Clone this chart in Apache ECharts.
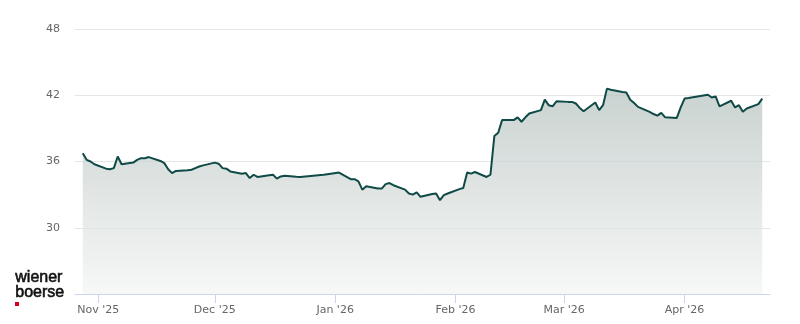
<!DOCTYPE html>
<html>
<head>
<meta charset="utf-8">
<script src="https://cdn.jsdelivr.net/npm/echarts@6/dist/echarts.min.js"></script>
<style>
  html, body { margin: 0; padding: 0; background: #ffffff; }
  #chart { width: 800px; height: 324px; }
</style>
</head>
<body>
<div id="chart"></div>
<script>
const dates = [
  '2025-10-28','2025-10-29','2025-10-30','2025-10-31',
  '2025-11-03','2025-11-04','2025-11-05','2025-11-06','2025-11-07',
  '2025-11-10','2025-11-11','2025-11-12','2025-11-13','2025-11-14',
  '2025-11-17','2025-11-18','2025-11-19','2025-11-20','2025-11-21',
  '2025-11-24','2025-11-25','2025-11-26','2025-11-27','2025-11-28',
  '2025-12-01','2025-12-02','2025-12-03','2025-12-04','2025-12-05',
  '2025-12-08','2025-12-09','2025-12-10','2025-12-11','2025-12-12',
  '2025-12-15','2025-12-16','2025-12-17','2025-12-18','2025-12-19',
  '2025-12-22','2025-12-23','2025-12-29','2025-12-30','2026-01-02',
  '2026-01-05','2026-01-06','2026-01-07','2026-01-08','2026-01-09',
  '2026-01-12','2026-01-13','2026-01-14','2026-01-15','2026-01-16',
  '2026-01-19','2026-01-20','2026-01-21','2026-01-22','2026-01-23',
  '2026-01-26','2026-01-27','2026-01-28','2026-01-29','2026-01-30',
  '2026-02-02','2026-02-03','2026-02-04','2026-02-05','2026-02-06',
  '2026-02-09','2026-02-10','2026-02-11','2026-02-12','2026-02-13',
  '2026-02-16','2026-02-17','2026-02-18','2026-02-19','2026-02-20',
  '2026-02-23','2026-02-24','2026-02-25','2026-02-26','2026-02-27',
  '2026-03-02','2026-03-03','2026-03-04','2026-03-05','2026-03-06',
  '2026-03-09','2026-03-10','2026-03-11','2026-03-12','2026-03-13',
  '2026-03-16','2026-03-17','2026-03-18','2026-03-19','2026-03-20',
  '2026-03-23','2026-03-24','2026-03-25','2026-03-26','2026-03-27',
  '2026-03-30','2026-03-31','2026-04-01','2026-04-02',
  '2026-04-07','2026-04-08','2026-04-09','2026-04-10',
  '2026-04-13','2026-04-14','2026-04-15','2026-04-16','2026-04-17',
  '2026-04-20','2026-04-21'
];

const prices = [
  36.75, 36.15, 36.0, 35.75,
  35.35, 35.3, 35.4, 36.45, 35.75,
  35.9, 36.15, 36.3, 36.3, 36.4,
  36.05, 35.85, 35.3, 34.95, 35.15,
  35.2, 35.25, 35.4, 35.55, 35.65,
  35.9, 35.8, 35.4, 35.35, 35.1,
  34.9, 34.95, 34.5, 34.8, 34.6,
  34.75, 34.8, 34.45, 34.65, 34.7,
  34.62, 34.6, 34.8, 34.85, 35.0,
  34.4, 34.4, 34.2, 33.45, 33.75,
  33.55, 33.55, 33.95, 34.05, 33.85,
  33.45, 33.1, 33.0, 33.2, 32.8,
  33.05, 33.1, 32.5, 32.95, 33.1,
  33.5, 33.6, 35.0, 34.9, 35.05,
  34.6, 34.8, 38.3, 38.6, 39.75,
  39.75, 40.0, 39.6, 40.0, 40.35,
  40.65, 41.6, 41.1, 41.0, 41.45,
  41.4, 41.4, 41.25, 40.85, 40.55,
  41.35, 40.65, 41.1, 42.6, 42.5,
  42.3, 42.25, 41.6, 41.3, 40.95,
  40.5, 40.3, 40.15, 40.4, 40.0,
  39.95, 40.9, 41.7, 41.75,
  42.05, 41.8, 41.9, 41.0,
  41.5, 40.9, 41.1, 40.5, 40.8,
  41.2, 41.7
];

const yTicks = [24, 30, 36, 42, 48];
const monthNames = ['Jan','Feb','Mar','Apr','May','Jun','Jul','Aug','Sep','Oct','Nov','Dec'];
const axisStart = '2025-10-26';
const axisEnd = '2026-04-23';

function toDate(s) {
  const p = s.split('-').map(Number);
  return new Date(p[0], p[1] - 1, p[2]).getTime();
}

const seriesData = dates.map((d, i) => [toDate(d), prices[i]]);

const chart = echarts.init(document.getElementById('chart'), null, { renderer: 'canvas' });

chart.setOption({
  animation: false,
  backgroundColor: '#ffffff',
  grid: { left: 75, right: 30, top: 29, bottom: 30, containLabel: false },
  xAxis: {
    type: 'time',
    min: toDate(axisStart),
    max: toDate(axisEnd),
    minInterval: 28 * 86400000,
    axisLine: { show: true, lineStyle: { color: '#ccd6eb', width: 1 } },
    axisTick: { show: true, length: 9, lineStyle: { color: '#ccd6eb', width: 1 } },
    splitLine: { show: false },
    axisLabel: {
      color: '#666666',
      fontFamily: 'DejaVu Sans',
      fontSize: 11,
      margin: 11,
      showMinLabel: false,
      showMaxLabel: false,
      formatter: function (val) {
        const d = new Date(val);
        return monthNames[d.getMonth()] + " '" + String(d.getFullYear()).slice(2);
      }
    }
  },
  yAxis: {
    type: 'value',
    min: yTicks[0],
    max: yTicks[yTicks.length - 1],
    interval: yTicks[1] - yTicks[0],
    axisLine: { show: false },
    axisTick: { show: false },
    splitLine: { show: true, lineStyle: { color: '#e6e6e6', width: 1 } },
    axisLabel: {
      color: '#666666',
      fontFamily: 'DejaVu Sans',
      fontSize: 11,
      margin: 15,
      formatter: function (v) { return v === yTicks[0] ? '' : String(v); }
    }
  },
  series: [{
    type: 'line',
    data: seriesData,
    showSymbol: false,
    symbol: 'none',
    smooth: false,
    lineStyle: { color: '#0f4a46', width: 2 },
    areaStyle: {
      color: new echarts.graphic.LinearGradient(0, 0, 0, 1, [
        { offset: 0, color: '#b3c0bd' },
        { offset: 1, color: '#f3f4f4' }
      ])
    },
    z: 3
  }],
  graphic: [
    {
      type: 'text', left: 15, top: 269,
      style: { text: 'wiener', font: '16px "Liberation Sans", Arial, sans-serif', fill: '#111111', stroke: '#111111', lineWidth: 0.6 }
    },
    {
      type: 'text', left: 15, top: 284,
      style: { text: 'boerse', font: '16px "Liberation Sans", Arial, sans-serif', fill: '#111111', stroke: '#111111', lineWidth: 0.6 }
    },
    {
      type: 'rect', left: 15, top: 302,
      shape: { width: 4, height: 4 },
      style: { fill: '#d9001b' }
    }
  ]
});
</script>
</body>
</html>
